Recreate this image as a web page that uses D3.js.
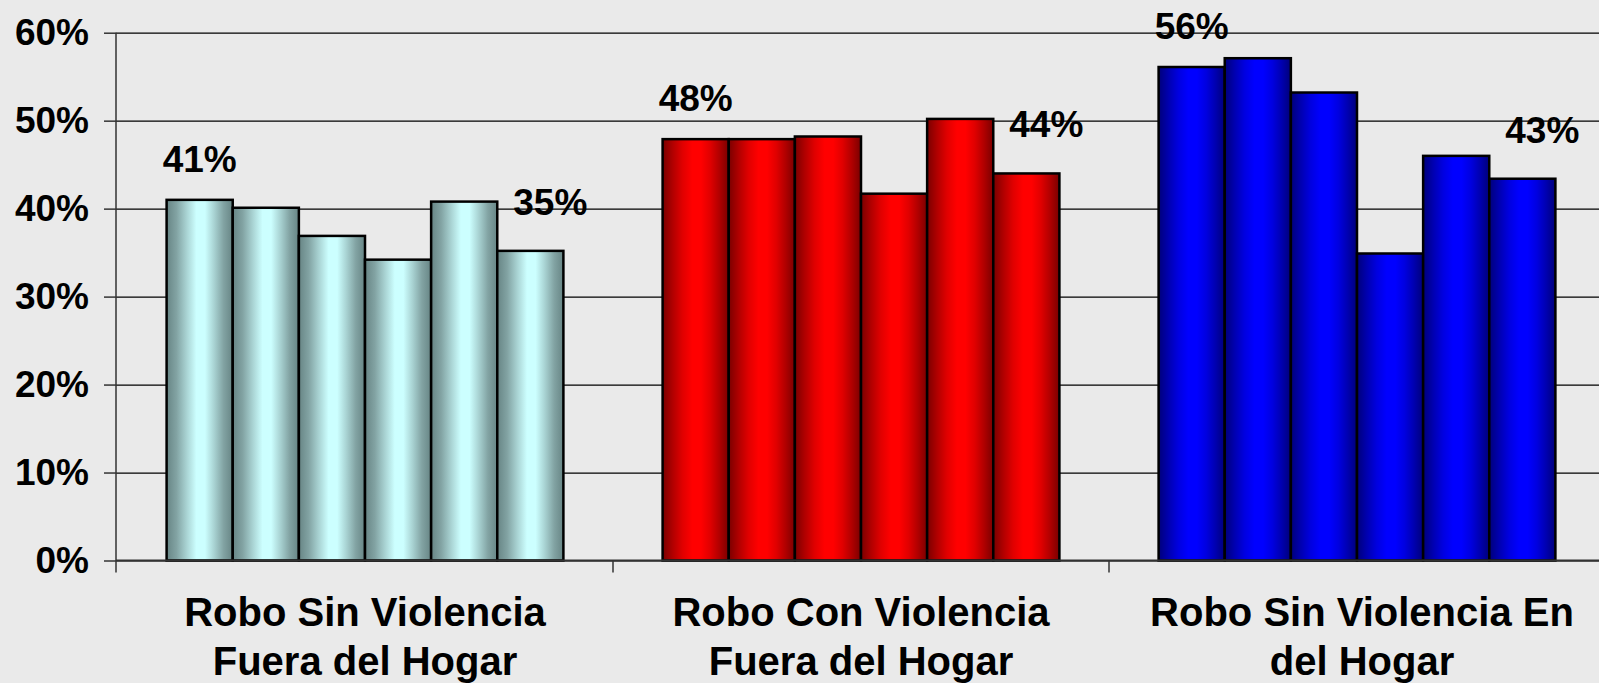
<!DOCTYPE html>
<html>
<head>
<meta charset="utf-8">
<title>Robo - porcentajes</title>
<script src="https://d3js.org/d3.v7.min.js"></script>
<style>
  body { margin: 0; background: #eaeaea; }
  svg { display: block; font-family: "Liberation Sans", Arial, sans-serif; font-weight: bold; }
</style>
</head>
<body>
<div id="chart"></div>
<script>
// datos (porcentaje)
const categories = [
  ["Robo Sin Violencia", "Fuera del Hogar"],
  ["Robo Con Violencia", "Fuera del Hogar"],
  ["Robo Sin Violencia En", "del Hogar"]
];
const seriesIdx = [0, 1, 2, 3, 4, 5];
const sinViolenciaFuera = [41.0, 40.1, 36.9, 34.2, 40.8, 35.2];
const conViolenciaFuera = [47.9, 47.9, 48.2, 41.7, 50.2, 44.0];
const sinViolenciaHogar = [56.1, 57.1, 53.2, 34.9, 46.0, 43.4];
const yTicks = [0, 10, 20, 30, 40, 50, 60];

const groupValues = [sinViolenciaFuera, conViolenciaFuera, sinViolenciaHogar];
const groupColors = [
  ["#678585", "#82a3a3", "#a8d2d2", "#ccffff"],
  ["#7a0000", "#b00000", "#e00000", "#ff0000"],
  ["#00007a", "#0000b0", "#0000e0", "#0000ff"]
];

const W = 1599, H = 683;
const mLeft = 116, mBottom = 560.5, mTop = 32.7;

const svg = d3.select("#chart").append("svg")
  .attr("width", W).attr("height", H);

// gradientes horizontales de las barras
const defs = svg.append("defs");
groupColors.forEach((c, i) => {
  const g = defs.append("linearGradient").attr("id", "grad" + i)
    .attr("x1", "0%").attr("x2", "100%").attr("y1", "0%").attr("y2", "0%");
  [[0, c[0]], [0.15, c[1]], [0.3, c[2]], [0.45, c[3]], [0.58, c[3]], [0.72, c[2]], [0.86, c[1]], [1, c[0]]]
    .forEach(([o, col]) => g.append("stop").attr("offset", o).attr("stop-color", col));
});

const x0 = d3.scaleBand()
  .domain(d3.range(categories.length))
  .range([mLeft + 1, mLeft + 1 + 496 * 3])
  .padding(0);

const x1 = d3.scaleBand()
  .domain(seriesIdx)
  .range([0, x0.bandwidth()])
  .paddingInner(0)
  .paddingOuter(0.75);

const y = d3.scaleLinear().domain([0, 60]).range([mBottom, mTop]);

// lineas de cuadricula
svg.append("g")
  .attr("transform", `translate(${mLeft},0)`)
  .call(d3.axisLeft(y).tickValues(yTicks).tickSize(-(W - mLeft)).tickFormat(""))
  .call(g => g.select(".domain").remove())
  .call(g => g.selectAll("line").attr("stroke", "#000").attr("stroke-width", 1.2));

// eje y
svg.append("g")
  .attr("transform", `translate(${mLeft},0)`)
  .call(d3.axisLeft(y).tickValues(yTicks).tickSize(12).tickPadding(15).tickFormat(d => d + "%"))
  .call(g => g.select(".domain").remove())
  .call(g => g.selectAll("line").attr("stroke", "#333").attr("stroke-width", 1.5))
  .call(g => g.selectAll("text")
    .attr("font-size", 37).attr("font-weight", "bold").attr("fill", "#000")
    .attr("font-family", "'Liberation Sans', Arial, sans-serif"));

svg.append("line")
  .attr("x1", mLeft).attr("x2", mLeft)
  .attr("y1", y(60)).attr("y2", y(0) + 12)
  .attr("stroke", "#333").attr("stroke-width", 1.5);

// barras
const groups = svg.selectAll(".grupo")
  .data(groupValues)
  .join("g")
  .attr("class", "grupo")
  .attr("transform", (d, i) => `translate(${x0(i)},0)`);

groups.each(function(vals, gi) {
  d3.select(this).selectAll("rect")
    .data(vals)
    .join("rect")
    .attr("x", (d, i) => x1(i))
    .attr("y", d => y(d))
    .attr("width", x1.bandwidth())
    .attr("height", d => y(0) - y(d))
    .attr("fill", `url(#grad${gi})`)
    .attr("stroke", "#000")
    .attr("stroke-width", 2.5);

  // etiquetas: primera y ultima barra
  const n = vals.length;
  d3.select(this).selectAll("text.etq")
    .data([0, n - 1])
    .join("text")
    .attr("class", "etq")
    .attr("x", i => x1(i) + x1.bandwidth() / 2 + (i === 0 ? 0 : 20))
    .attr("y", i => y(vals[i]) - (i === 0 ? 28 : 36))
    .attr("text-anchor", "middle")
    .attr("font-size", 37)
    .text(i => Math.round(vals[i]) + "%");
});

// eje x
svg.append("line")
  .attr("x1", mLeft).attr("x2", W)
  .attr("y1", y(0)).attr("y2", y(0))
  .attr("stroke", "#333").attr("stroke-width", 2);

svg.selectAll(".xtick")
  .data(d3.range(1, categories.length + 1))
  .join("line")
  .attr("class", "xtick")
  .attr("x1", i => x0.range()[0] + i * x0.step())
  .attr("x2", i => x0.range()[0] + i * x0.step())
  .attr("y1", y(0)).attr("y2", y(0) + 12)
  .attr("stroke", "#333").attr("stroke-width", 1.5);

const xl = svg.selectAll(".xlab")
  .data(categories)
  .join("text")
  .attr("class", "xlab")
  .attr("text-anchor", "middle")
  .attr("font-size", 40);

xl.selectAll("tspan")
  .data((d, i) => d.map(t => ({ t, i })))
  .join("tspan")
  .attr("x", d => x0(d.i) + x0.bandwidth() / 2 + (d.i === 2 ? 5 : 0))
  .attr("y", (d, j) => 626 + j * 48.5)
  .text(d => d.t);
</script>
</body>
</html>
